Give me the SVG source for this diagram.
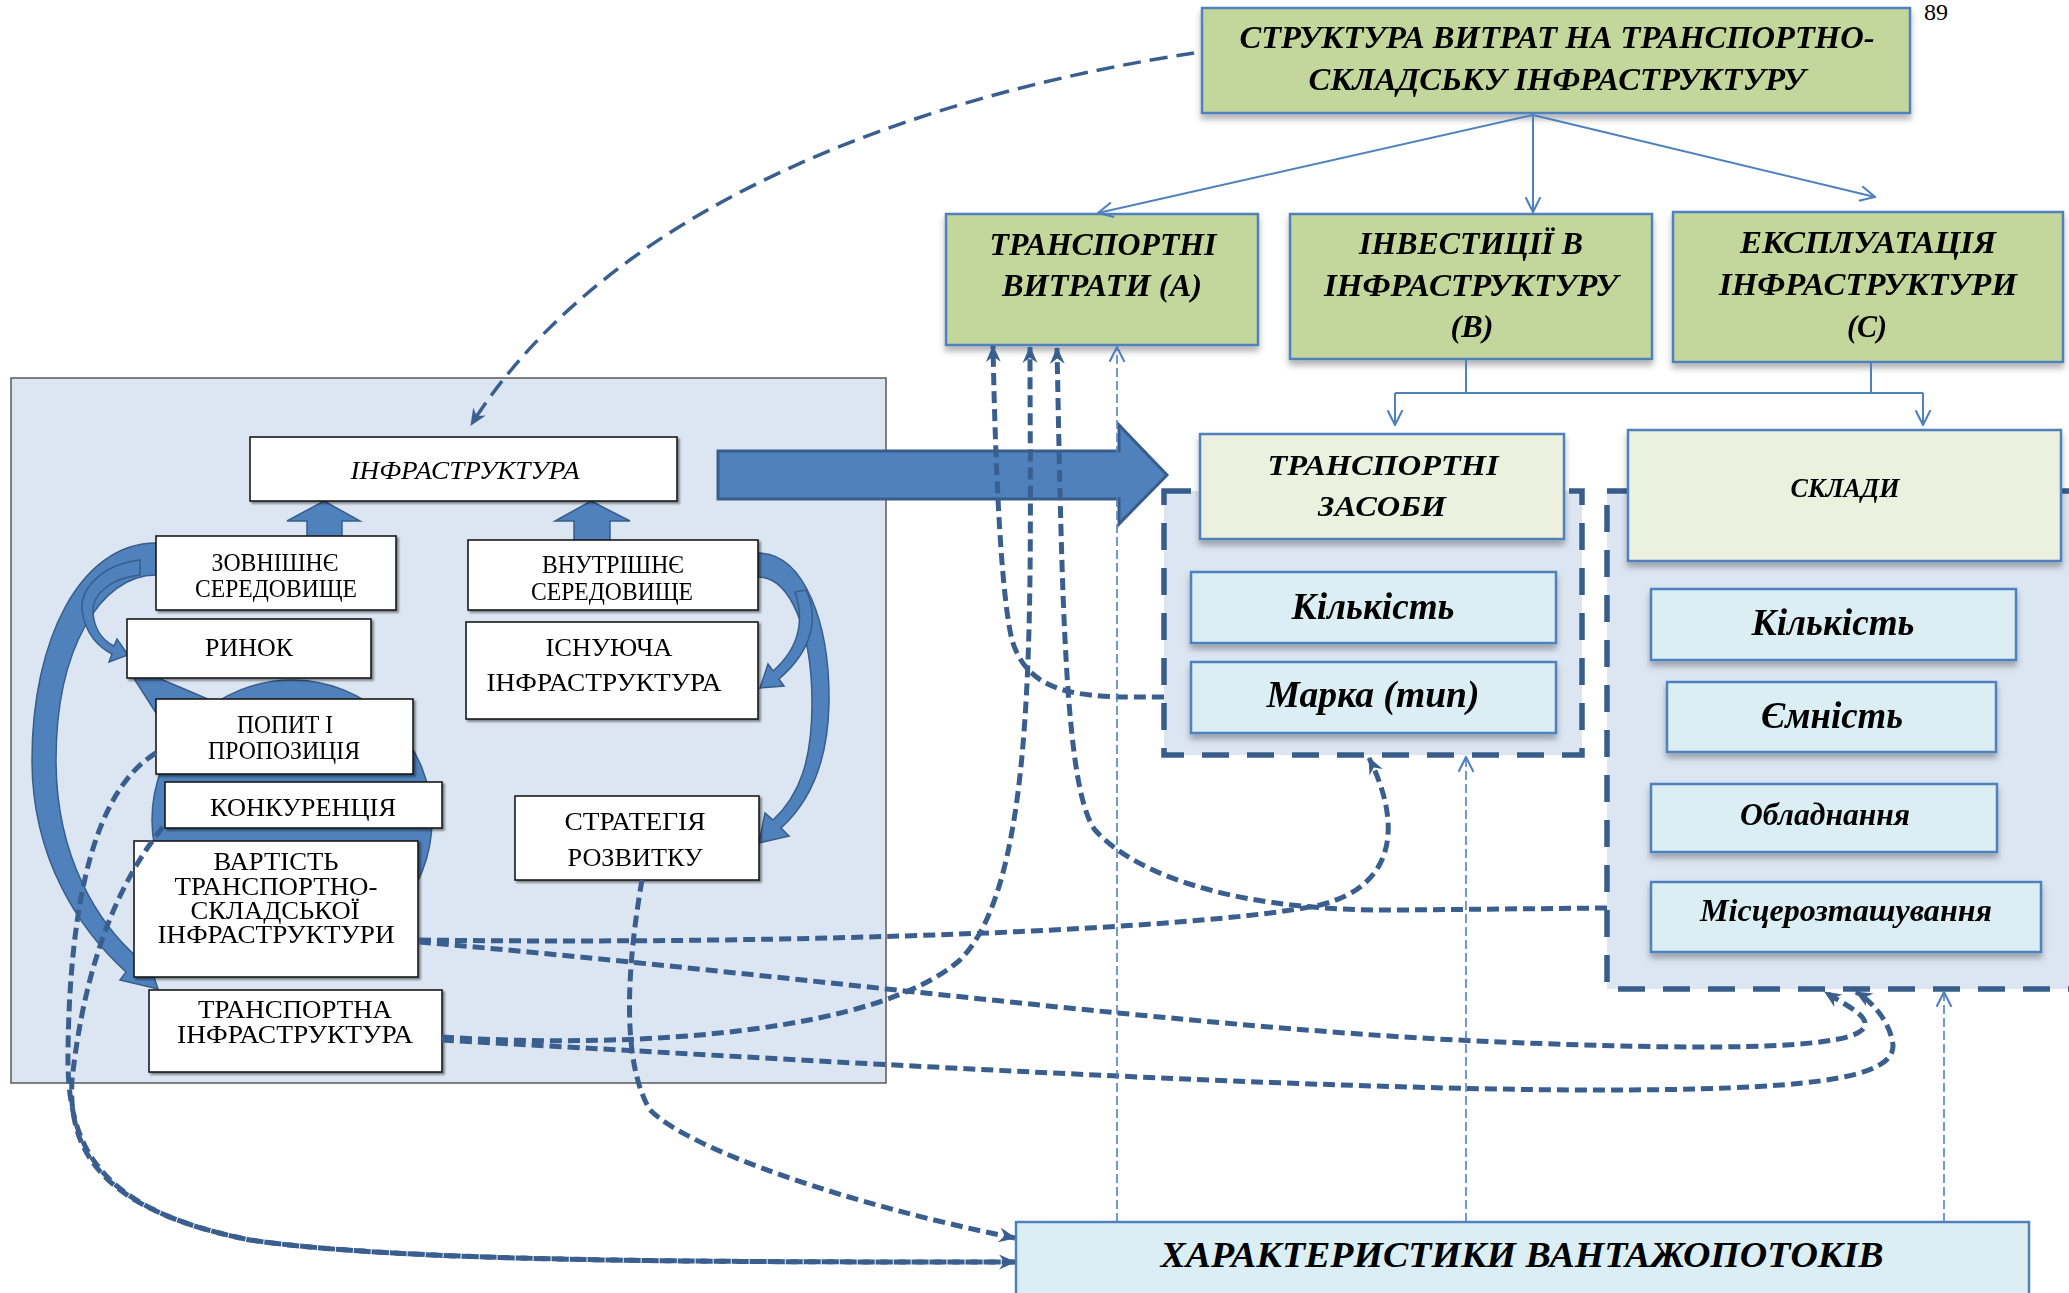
<svg xmlns="http://www.w3.org/2000/svg" width="2069" height="1293" viewBox="0 0 2069 1293">
  <defs>
    <style>
      .bi { font-family: 'Liberation Serif', 'Times New Roman', serif; font-weight: bold; font-style: italic; text-anchor: middle; fill: #000; }
      .rg { font-family: 'Liberation Serif', 'Times New Roman', serif; text-anchor: middle; fill: #000; font-size: 25px; }
      .green { fill: #C3D69B; stroke: #4F81BD; stroke-width: 2.5; }
      .beige { fill: #EBF1DE; stroke: #4F81BD; stroke-width: 2.5; }
      .cyan { fill: #DBEEF4; stroke: #4F81BD; stroke-width: 2.5; }
      .group { fill: #DCE6F2; stroke: #385D8A; stroke-width: 5.5; stroke-dasharray: 27 18; }
      .white { fill: #FFFFFF; stroke: #1A1A1A; stroke-width: 1.6; }
      .blue { fill: #4F81BD; stroke: #385D8A; stroke-width: 1.5; }
      .thick { fill: none; stroke: #3A5F8F; stroke-width: 5; stroke-dasharray: 12 6; }
      .thin { fill: none; stroke: #4F81BD; stroke-width: 1.6; stroke-dasharray: 9 4; }
      .solid { fill: none; stroke: #4F81BD; stroke-width: 2; }
    </style>
    <filter id="shadow" x="-10%" y="-10%" width="120%" height="130%">
      <feDropShadow dx="0" dy="5" stdDeviation="3" flood-color="#000" flood-opacity="0.3"/>
    </filter>
    <filter id="shadowSmall" x="-10%" y="-10%" width="120%" height="130%">
      <feDropShadow dx="2" dy="2" stdDeviation="1" flood-color="#000" flood-opacity="0.45"/>
    </filter>
    <marker id="stealth" viewBox="0 0 16 16" markerUnits="userSpaceOnUse" markerWidth="17" markerHeight="17" refX="15" refY="8" orient="auto">
      <path d="M0,1 L16,8 L0,15 L5,8 Z" fill="#3A5F8F"/>
    </marker>
    <marker id="openV" viewBox="0 0 16 16" markerUnits="userSpaceOnUse" markerWidth="17" markerHeight="17" refX="15" refY="8" orient="auto">
      <path d="M1,1 L15,8 L1,15" fill="none" stroke="#4F81BD" stroke-width="2"/>
    </marker>
  </defs>

  <!-- page number -->
  <text x="1936" y="20" font-family="'Liberation Serif', serif" font-size="24" text-anchor="middle">89</text>

  <!-- left panel: infrastructure -->
  <g id="panel-infrastructure">
    <rect x="11" y="378" width="875" height="705" fill="#DCE6F2" stroke="#595959" stroke-width="1.5"/>
    <!-- central circle and wedge -->
    <circle cx="292" cy="820" r="140" class="blue"/>
    <polygon points="133,677 156,677 210,700 158,716" class="blue"/>
    <!-- curved arrow: external environment to transport infrastructure -->
    <path class="blue" d="M156,543 C80,543 32,640 32,760 C32,860 80,930 126,972 L120,980 L158,989 L145,950 L138,958 C100,925 56,860 56,760 C56,650 100,575 156,575 Z"/>
    <!-- curved arrow: external environment to market -->
    <path class="blue" d="M140,560 C100,565 80,590 82,610 C85,635 100,648 112,654 L109,662 L128,655 L117,639 L114,646 C102,640 94,628 93,612 C92,595 110,578 140,575 Z"/>
    <!-- curved arrow: internal environment to strategy -->
    <path class="blue" d="M758,553 C805,553 830,625 829,703 C828,760 812,800 781,828 L789,836 L759,843 L765,813 L773,820 C800,795 812,760 812,703 C812,630 790,577 758,577 Z"/>
    <!-- curved arrow: internal environment to existing infrastructure -->
    <path class="blue" d="M806,590 C818,615 815,648 779,679 L784,686 L760,688 L768,664 L773,671 C803,645 803,615 795,592 Z"/>
    <!-- block arrows up -->
    <polygon class="blue" points="324,501 360,521 342,521 342,540 307,540 307,521 287,521"/>
    <polygon class="blue" points="591,501 630,521 610,521 610,541 574,541 574,521 555,521"/>
  </g>

  <g id="node-infrastructure" filter="url(#shadowSmall)">
    <rect x="250" y="437" width="427" height="64" class="white"/>
    <text x="465" y="479" class="rg" font-style="italic" font-size="26" textLength="229" lengthAdjust="spacingAndGlyphs">ІНФРАСТРУКТУРА</text>
  </g>
  <g id="node-external" filter="url(#shadowSmall)">
    <rect x="156" y="536" width="240" height="74" class="white"/>
    <text x="275" y="571" class="rg" textLength="127" lengthAdjust="spacingAndGlyphs">ЗОВНІШНЄ</text>
    <text x="276" y="597" class="rg" textLength="162" lengthAdjust="spacingAndGlyphs">СЕРЕДОВИЩЕ</text>
  </g>
  <g id="node-internal" filter="url(#shadowSmall)">
    <rect x="468" y="540" width="290" height="70" class="white"/>
    <text x="613" y="573" class="rg" textLength="142" lengthAdjust="spacingAndGlyphs">ВНУТРІШНЄ</text>
    <text x="612" y="600" class="rg" textLength="162" lengthAdjust="spacingAndGlyphs">СЕРЕДОВИЩЕ</text>
  </g>
  <g id="node-market" filter="url(#shadowSmall)">
    <rect x="127" y="619" width="244" height="59" class="white"/>
    <text x="249" y="656" class="rg" textLength="88" lengthAdjust="spacingAndGlyphs">РИНОК</text>
  </g>
  <g id="node-existing" filter="url(#shadowSmall)">
    <rect x="466" y="622" width="292" height="97" class="white"/>
    <text x="609" y="656" class="rg" textLength="127" lengthAdjust="spacingAndGlyphs">ІСНУЮЧА</text>
    <text x="604" y="691" class="rg" textLength="235" lengthAdjust="spacingAndGlyphs">ІНФРАСТРУКТУРА</text>
  </g>
  <g id="node-demand" filter="url(#shadowSmall)">
    <rect x="156" y="699" width="257" height="75" class="white"/>
    <text x="285" y="733" class="rg" textLength="96" lengthAdjust="spacingAndGlyphs">ПОПИТ І</text>
    <text x="284" y="759" class="rg" textLength="152" lengthAdjust="spacingAndGlyphs">ПРОПОЗИЦІЯ</text>
  </g>
  <g id="node-competition" filter="url(#shadowSmall)">
    <rect x="165" y="782" width="277" height="46" class="white"/>
    <text x="303" y="816" class="rg" textLength="186" lengthAdjust="spacingAndGlyphs">КОНКУРЕНЦІЯ</text>
  </g>
  <g id="node-strategy" filter="url(#shadowSmall)">
    <rect x="515" y="796" width="244" height="84" class="white"/>
    <text x="635" y="830" class="rg" textLength="141" lengthAdjust="spacingAndGlyphs">СТРАТЕГІЯ</text>
    <text x="635" y="866" class="rg" textLength="135" lengthAdjust="spacingAndGlyphs">РОЗВИТКУ</text>
  </g>
  <g id="node-cost" filter="url(#shadowSmall)">
    <rect x="134" y="841" width="284" height="136" class="white"/>
    <text x="276" y="870" class="rg" textLength="125" lengthAdjust="spacingAndGlyphs">ВАРТІСТЬ</text>
    <text x="276" y="895" class="rg" textLength="203" lengthAdjust="spacingAndGlyphs">ТРАНСПОРТНО-</text>
    <text x="275" y="919" class="rg" textLength="169" lengthAdjust="spacingAndGlyphs">СКЛАДСЬКОЇ</text>
    <text x="276" y="943" class="rg" textLength="237" lengthAdjust="spacingAndGlyphs">ІНФРАСТРУКТУРИ</text>
  </g>
  <g id="node-transport-infra" filter="url(#shadowSmall)">
    <rect x="149" y="990" width="293" height="82" class="white"/>
    <text x="295" y="1018" class="rg" textLength="194" lengthAdjust="spacingAndGlyphs">ТРАНСПОРТНА</text>
    <text x="295" y="1043" class="rg" textLength="236" lengthAdjust="spacingAndGlyphs">ІНФРАСТРУКТУРА</text>
  </g>

  <!-- big block arrow to the right -->
  <g id="block-arrow">
    <polygon points="718,451 1119,451 1119,425 1167,475 1119,524 1119,499 718,499" fill="#4F81BD" stroke="#385D8A" stroke-width="3"/>
  </g>

  <!-- cost structure -->
  <g id="node-structure" filter="url(#shadow)">
    <rect x="1202" y="8" width="708" height="105" class="green"/>
    <text x="1557" y="48" class="bi" font-size="31" textLength="635" lengthAdjust="spacingAndGlyphs">СТРУКТУРА ВИТРАТ НА ТРАНСПОРТНО-</text>
    <text x="1557" y="90" class="bi" font-size="31" textLength="497" lengthAdjust="spacingAndGlyphs">СКЛАДСЬКУ ІНФРАСТРУКТУРУ</text>
  </g>
  <g id="node-a" filter="url(#shadow)">
    <rect x="946" y="214" width="312" height="131" class="green"/>
    <text x="1103" y="255" class="bi" font-size="31" textLength="227" lengthAdjust="spacingAndGlyphs">ТРАНСПОРТНІ</text>
    <text x="1102" y="296" class="bi" font-size="31" textLength="200" lengthAdjust="spacingAndGlyphs">ВИТРАТИ (А)</text>
  </g>
  <g id="node-b" filter="url(#shadow)">
    <rect x="1290" y="214" width="362" height="145" class="green"/>
    <text x="1471" y="254" class="bi" font-size="31" textLength="224" lengthAdjust="spacingAndGlyphs">ІНВЕСТИЦІЇ В</text>
    <text x="1471" y="296" class="bi" font-size="31" textLength="294" lengthAdjust="spacingAndGlyphs">ІНФРАСТРУКТУРУ</text>
    <text x="1472" y="337" class="bi" font-size="31" textLength="43" lengthAdjust="spacingAndGlyphs">(В)</text>
  </g>
  <g id="node-c" filter="url(#shadow)">
    <rect x="1673" y="212" width="390" height="150" class="green"/>
    <text x="1868" y="253" class="bi" font-size="31" textLength="256" lengthAdjust="spacingAndGlyphs">ЕКСПЛУАТАЦІЯ</text>
    <text x="1868" y="295" class="bi" font-size="31" textLength="298" lengthAdjust="spacingAndGlyphs">ІНФРАСТРУКТУРИ</text>
    <text x="1867" y="337" class="bi" font-size="31" textLength="40" lengthAdjust="spacingAndGlyphs">(С)</text>
  </g>

  <!-- vehicles group -->
  <g id="group-vehicles">
    <rect x="1164" y="491" width="418" height="264" class="group"/>
  </g>
  <g id="node-vehicles" filter="url(#shadow)">
    <rect x="1200" y="434" width="364" height="105" class="beige"/>
    <text x="1383" y="475" class="bi" font-size="30" textLength="231" lengthAdjust="spacingAndGlyphs">ТРАНСПОРТНІ</text>
    <text x="1382" y="516" class="bi" font-size="30" textLength="128" lengthAdjust="spacingAndGlyphs">ЗАСОБИ</text>
  </g>
  <g id="node-vehicles-count" filter="url(#shadow)">
    <rect x="1191" y="572" width="365" height="71" class="cyan"/>
    <text x="1373" y="619" class="bi" font-size="38" textLength="163" lengthAdjust="spacingAndGlyphs">Кількість</text>
  </g>
  <g id="node-vehicles-brand" filter="url(#shadow)">
    <rect x="1191" y="662" width="365" height="71" class="cyan"/>
    <text x="1373" y="707" class="bi" font-size="38" textLength="213" lengthAdjust="spacingAndGlyphs">Марка (тип)</text>
  </g>

  <!-- warehouses group -->
  <g id="group-warehouses">
    <rect x="1607" y="491" width="490" height="498" class="group"/>
  </g>
  <g id="node-warehouses" filter="url(#shadow)">
    <rect x="1628" y="430" width="433" height="131" class="beige"/>
    <text x="1845" y="497" class="bi" font-size="27" textLength="109" lengthAdjust="spacingAndGlyphs">СКЛАДИ</text>
  </g>
  <g id="node-wh-count" filter="url(#shadow)">
    <rect x="1651" y="589" width="365" height="71" class="cyan"/>
    <text x="1833" y="635" class="bi" font-size="38" textLength="163" lengthAdjust="spacingAndGlyphs">Кількість</text>
  </g>
  <g id="node-wh-capacity" filter="url(#shadow)">
    <rect x="1667" y="682" width="329" height="70" class="cyan"/>
    <text x="1832" y="728" class="bi" font-size="38" textLength="142" lengthAdjust="spacingAndGlyphs">Ємність</text>
  </g>
  <g id="node-wh-equipment" filter="url(#shadow)">
    <rect x="1651" y="784" width="346" height="68" class="cyan"/>
    <text x="1825" y="825" class="bi" font-size="32" textLength="170" lengthAdjust="spacingAndGlyphs">Обладнання</text>
  </g>
  <g id="node-wh-location" filter="url(#shadow)">
    <rect x="1651" y="882" width="390" height="70" class="cyan"/>
    <text x="1846" y="921" class="bi" font-size="32" textLength="292" lengthAdjust="spacingAndGlyphs">Місцерозташування</text>
  </g>

  <!-- cargo flow characteristics -->
  <g id="node-cargo">
    <rect x="1016" y="1222" width="1013" height="80" class="cyan"/>
    <text x="1522" y="1267" class="bi" font-size="36" textLength="723" lengthAdjust="spacingAndGlyphs">ХАРАКТЕРИСТИКИ ВАНТАЖОПОТОКІВ</text>
  </g>

  <!-- connectors -->
  <g id="connectors">
    <!-- tree from cost structure -->
    <path class="solid" d="M1533,115 L1098,213" marker-end="url(#openV)"/>
    <path class="solid" d="M1533,115 L1533,212" marker-end="url(#openV)"/>
    <path class="solid" d="M1533,115 L1875,197" marker-end="url(#openV)"/>
    <path class="solid" d="M1466,359 L1466,393 M1871,362 L1871,393 M1395,393 L1923,393"/>
    <path class="solid" d="M1395,393 L1395,425" marker-end="url(#openV)"/>
    <path class="solid" d="M1923,393 L1923,425" marker-end="url(#openV)"/>

    <!-- cost structure to infrastructure -->
    <path class="thick" style="stroke-width:3.5;stroke-dasharray:18 9" d="M1194,53 C950,90 620,190 471,425" marker-end="url(#stealth)"/>

    <!-- to transport costs (A) -->
    <path class="thick" d="M1164,697 C1090,697 1030,700 1012,640 C1000,590 995,450 993,346" marker-end="url(#stealth)"/>
    <path class="thick" d="M442,1037 C650,1050 880,1030 960,960 C1040,880 1030,600 1030,347" marker-end="url(#stealth)"/>
    <path class="thick" d="M1607,908 L1400,910 C1250,912 1140,880 1095,830 C1065,790 1062,600 1057,348" marker-end="url(#stealth)"/>

    <!-- cost of infrastructure to vehicles and warehouses -->
    <path class="thick" d="M419,940 C800,945 1200,930 1320,905 C1400,885 1400,820 1369,758" marker-end="url(#stealth)"/>
    <path class="thick" d="M419,942 C800,975 1200,1030 1500,1042 C1700,1050 1840,1050 1862,1030 C1875,1018 1845,1005 1825,992" marker-end="url(#stealth)"/>
    <path class="thick" d="M442,1040 C800,1060 1300,1090 1600,1090 C1800,1090 1895,1080 1893,1045 C1890,1020 1870,1000 1856,992" marker-end="url(#stealth)"/>

    <!-- left side to cargo flow characteristics -->
    <path class="thick" d="M156,753 C95,790 70,900 68,1050 C66,1150 100,1210 250,1240 C400,1262 700,1262 1015,1262" marker-end="url(#stealth)"/>
    <path class="thick" d="M163,827 C120,880 85,960 72,1080 C68,1150 100,1210 250,1240 C400,1262 700,1262 1015,1262"/>
    <path class="thick" d="M642,880 C628,960 620,1060 650,1110 C690,1150 850,1205 1015,1238" marker-end="url(#stealth)"/>

    <!-- cargo flow characteristics upward -->
    <path class="thin" d="M1117,1222 L1117,347" marker-end="url(#openV)"/>
    <path class="thin" d="M1466,1222 L1466,757" marker-end="url(#openV)"/>
    <path class="thin" d="M1944,1222 L1944,992" marker-end="url(#openV)"/>
  </g>
</svg>
